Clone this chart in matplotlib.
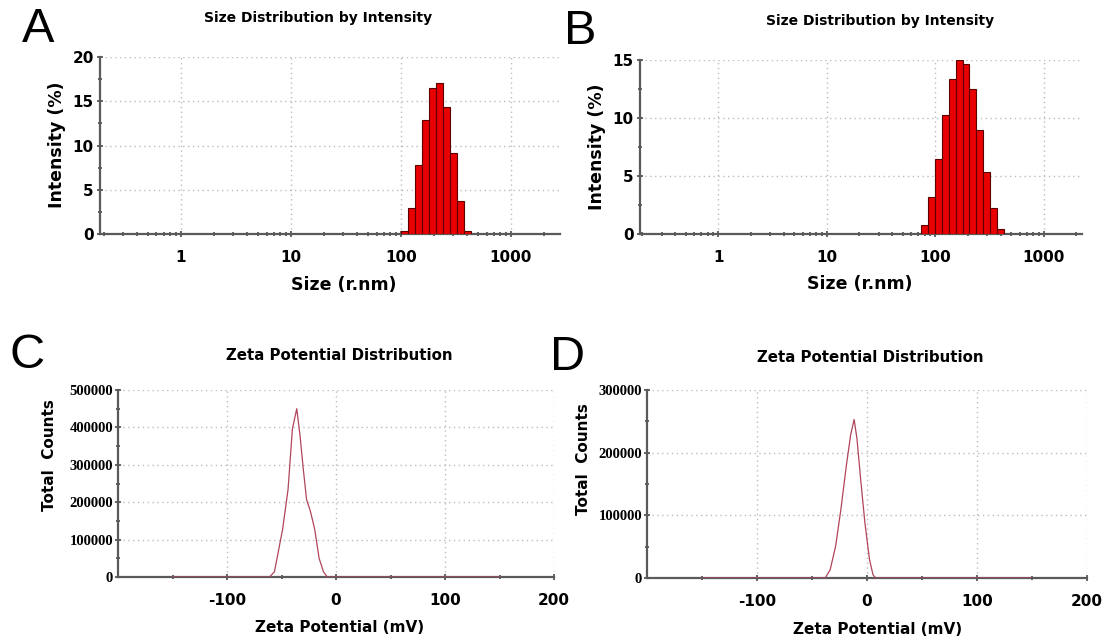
import matplotlib
matplotlib.use('Agg')
import matplotlib.pyplot as plt
from matplotlib.ticker import MultipleLocator, FixedLocator, LogLocator, NullFormatter

# panel A: size distribution (bin edges in nm, intensity in %)
size_edges_a = [100, 115.8, 134.1, 155.2, 179.7, 208.1, 241.0, 279.0, 323.1, 374.1, 433.2]
intensity_a = [0.3, 2.95, 7.8, 12.85, 16.55, 17.05, 14.3, 9.2, 3.7, 0.3]

# panel B
size_edges_b = [74.3, 86.0, 99.5, 115.1, 133.2, 154.1, 178.3, 206.3, 238.7, 276.2, 319.6, 369.8, 427.9]
intensity_b = [0.8, 3.15, 6.5, 10.3, 13.4, 15.0, 14.65, 12.5, 8.95, 5.35, 2.2, 0.4]

# panel C: zeta potential (mV) vs total counts
zeta_c = [-150, -61, -56.5, -49, -44, -40, -36, -33, -30, -27, -23.5, -19.5, -15.5, -11.5, -8, 150]
counts_c = [0, 0, 14000, 127000, 234000, 396000, 450000, 378000, 288000, 207000, 176000, 127000, 50000, 14000, 0, 0]

# panel D
zeta_d = [-150, -38, -33.5, -28.5, -23.7, -18.8, -14.9, -11.7, -9.1, -5.8, -1.9, 2.3, 5.5, 8, 150]
counts_d = [0, 0, 13000, 51000, 110000, 179000, 228000, 253000, 222000, 158000, 88000, 29000, 5000, 0, 0]

size_ticks = [1, 10, 100, 1000]
zeta_ticks = [-100, 0, 100, 200]

W, H = 1107, 641
SANS = 'DejaVu Sans'
SERIF = 'Liberation Serif'
GRID = dict(color='#bcbcbc', linestyle=(0, (1, 2.5)), linewidth=1.0)


def rect(l, r, t, b):
	return [l / W, 1 - b / H, (r - l) / W, (b - t) / H]


def txt(fig, x, y, s, **kw):
	fig.text(x / W, 1 - y / H, s, ha='center', va='center', **kw)


def style_axes(ax):
	for s in ['top', 'right']:
		ax.spines[s].set_visible(False)
	for s in ['left', 'bottom']:
		ax.spines[s].set_color('#5a5a5a')
		ax.spines[s].set_linewidth(1.6)
	ax.tick_params(which='both', direction='inout', color='#4a4a4a', width=1.2)
	ax.tick_params(which='major', length=5)
	ax.tick_params(which='minor', length=3.5)
	ax.grid(True, which='major', **GRID)
	ax.set_axisbelow(True)


def plot_size(ax, edges, vals, xlim, ymax, ystep):
	lefts = edges[:-1]
	widths = [edges[i + 1] - edges[i] for i in range(len(vals))]
	ax.set_xscale('log')
	ax.bar(lefts, vals, width=widths, align='edge', color='#e80000',
		edgecolor='#5a0000', linewidth=0.8, zorder=3)
	ax.set_xlim(*xlim)
	ax.set_ylim(0, ymax)
	ax.xaxis.set_major_locator(FixedLocator(size_ticks))
	ax.xaxis.set_minor_locator(LogLocator(base=10, subs=range(2, 10)))
	ax.xaxis.set_minor_formatter(NullFormatter())
	ax.set_xticklabels([str(t) for t in size_ticks])
	ax.yaxis.set_major_locator(MultipleLocator(ystep))
	ax.yaxis.set_minor_locator(MultipleLocator(ystep / 2))
	style_axes(ax)
	for lab in ax.get_xticklabels() + ax.get_yticklabels():
		lab.set_fontfamily(SANS)
		lab.set_fontweight('bold')
		lab.set_fontsize(11)
	ax.tick_params(axis='x', which='major', pad=9)
	ax.tick_params(axis='y', which='major', pad=2)


def plot_zeta(ax, x, y, ymax):
	ax.plot(x, y, color='#b0455a', linewidth=0.9, zorder=3)
	ax.set_xlim(-200, 200)
	ax.set_ylim(0, ymax)
	ax.xaxis.set_major_locator(FixedLocator(zeta_ticks))
	ax.xaxis.set_minor_locator(FixedLocator([-150, -50, 50, 150]))
	ax.yaxis.set_major_locator(MultipleLocator(100000))
	ax.yaxis.set_minor_locator(MultipleLocator(50000))
	ax.set_xticklabels([str(t) for t in zeta_ticks])
	ax.set_yticklabels([str(int(v)) for v in ax.get_yticks()])
	style_axes(ax)
	for lab in ax.get_xticklabels():
		lab.set_fontfamily(SANS)
		lab.set_fontweight('bold')
		lab.set_fontsize(11)
	for lab in ax.get_yticklabels():
		lab.set_fontfamily(SERIF)
		lab.set_fontweight('bold')
		lab.set_fontsize(10.5)
	ax.tick_params(axis='x', which='major', pad=9)
	ax.tick_params(axis='y', which='major', pad=1)


fig = plt.figure(figsize=(W / 100, H / 100), dpi=100)

ax_a = fig.add_axes(rect(100, 560, 57, 234))
plot_size(ax_a, size_edges_a, intensity_a, (0.184, 2790), 20, 5)
ax_b = fig.add_axes(rect(640, 1082, 60, 234))
plot_size(ax_b, size_edges_b, intensity_b, (0.19, 2250), 15, 5)
ax_c = fig.add_axes(rect(118, 554, 390, 577))
plot_zeta(ax_c, zeta_c, counts_c, 500000)
ax_d = fig.add_axes(rect(647, 1087, 390, 578))
plot_zeta(ax_d, zeta_d, counts_d, 300000)

tfont = dict(family=SANS, fontweight='bold', fontsize=10)
ztfont = dict(family=SANS, fontweight='bold', fontsize=10.8)
lfont = dict(family=SANS, fontweight='bold', fontsize=12.5)

txt(fig, 318, 18, 'Size Distribution by Intensity', **tfont)
txt(fig, 880, 21, 'Size Distribution by Intensity', **tfont)
txt(fig, 339, 355, 'Zeta Potential Distribution', **ztfont)
txt(fig, 870, 357, 'Zeta Potential Distribution', **ztfont)

txt(fig, 344, 285, 'Size (r.nm)', **lfont)
txt(fig, 860, 284, 'Size (r.nm)', **lfont)
txt(fig, 57, 145, 'Intensity (%)', rotation=90, **lfont)
txt(fig, 597, 147, 'Intensity (%)', rotation=90, **lfont)

zfont = dict(family=SANS, fontweight='bold', fontsize=11)
txt(fig, 340, 627, 'Zeta Potential (mV)', **zfont)
txt(fig, 878, 630, 'Zeta Potential (mV)', **zfont)
txt(fig, 49, 455, 'Total  Counts', rotation=90, **zfont)
txt(fig, 584, 459, 'Total  Counts', rotation=90, **zfont)

pfont = dict(family='Liberation Sans', fontsize=35)
txt(fig, 38, 29, 'A', **pfont)
txt(fig, 580, 31, 'B', **pfont)
txt(fig, 27, 356, 'C', **pfont)
txt(fig, 568, 358, 'D', **pfont)

fig.savefig('out.png', dpi=100)
